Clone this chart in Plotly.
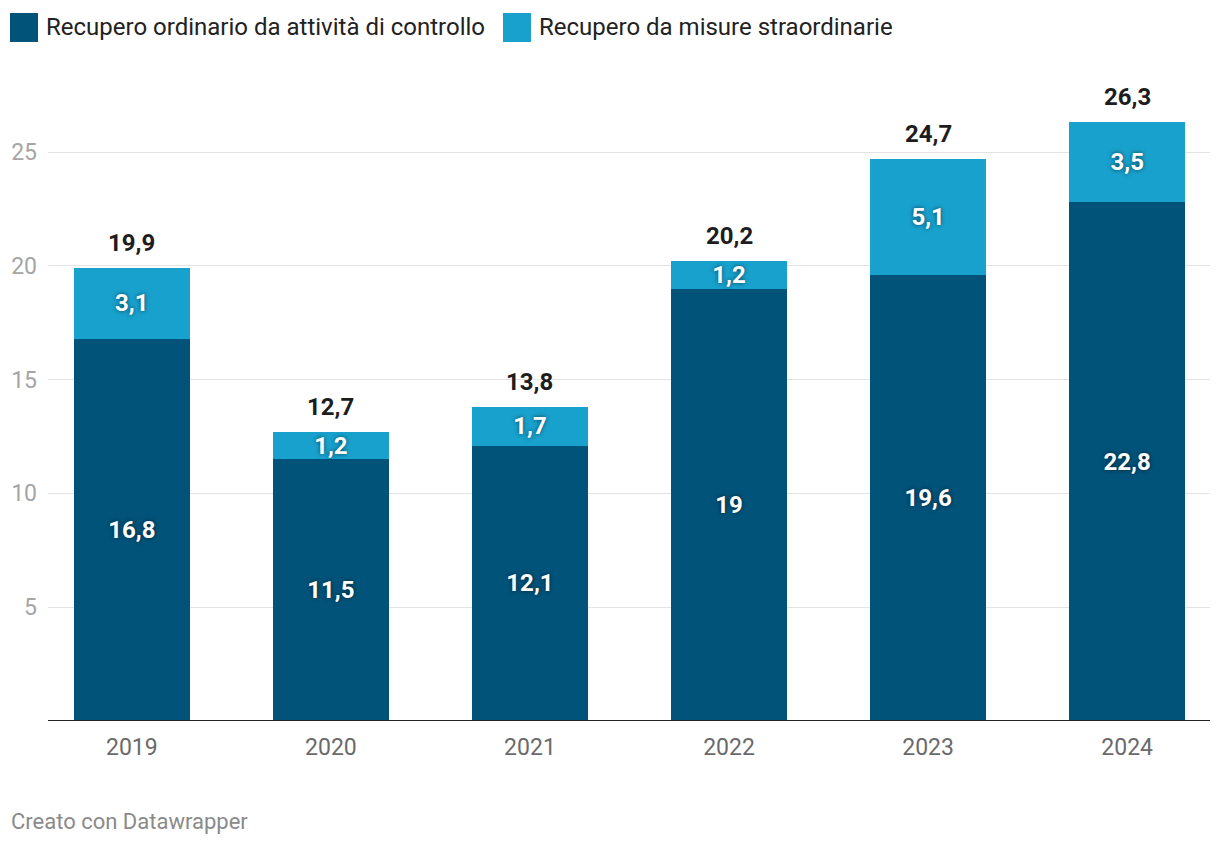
import plotly.graph_objects as go

years = ["2019", "2020", "2021", "2022", "2023", "2024"]
ordinario = [16.8, 11.5, 12.1, 19.0, 19.6, 22.8]
straordinario = [3.1, 1.2, 1.7, 1.2, 5.1, 3.5]
totali = [19.9, 12.7, 13.8, 20.2, 24.7, 26.3]
series_names = ["Recupero ordinario da attività di controllo", "Recupero da misure straordinarie"]
y_ticks = [5, 10, 15, 20, 25]

C_DARK = "#01537a"
C_LIGHT = "#18a1cd"
FONT = "Roboto"
OFF = 8  # page offset of the figure


def fmt(v):
    s = ("%.1f" % v).rstrip("0").rstrip(".")
    return s.replace(".", ",")


x = list(range(len(years)))
inner_font = dict(family=FONT, size=24, color="white", weight="bold",
                  shadow="0px 0px 4px rgba(0,0,0,0.6)")

fig = go.Figure()
fig.add_trace(go.Bar(
    x=x, y=ordinario, name=series_names[0], marker=dict(color=C_DARK, line=dict(width=0)),
    width=0.58, text=[fmt(v) for v in ordinario], textposition="inside",
    insidetextanchor="middle", textangle=0, textfont=inner_font, constraintext="none",
    hoverinfo="skip"))
fig.add_trace(go.Bar(
    x=x, y=straordinario, name=series_names[1], marker=dict(color=C_LIGHT, line=dict(width=0)),
    width=0.58, text=[fmt(v) for v in straordinario], textposition="inside",
    insidetextanchor="middle", textangle=0, textfont=inner_font, constraintext="none",
    hoverinfo="skip"))

for xi, t in zip(x, totali):
    fig.add_annotation(x=xi, y=t, text=fmt(t), showarrow=False, yanchor="bottom",
                       yshift=9, font=dict(family=FONT, size=24, color="#1d1d1d", weight="bold"))

# plot area in target px
L, R = 48, 1210
T, B = 90, 721
W = R - L
H = B - T


def px(p):
    return (p - L) / W


def py(p):
    return (B - p) / H


legend_items = [(10, 38, 44, series_names[0], C_DARK), (503, 531, 537, series_names[1], C_LIGHT)]
for x0, x1, tx, name, col in legend_items:
    fig.add_shape(type="rect", xref="paper", yref="paper", x0=px(x0), x1=px(x1),
                  y0=py(42), y1=py(13), fillcolor=col, line=dict(width=0))
    fig.add_annotation(xref="paper", yref="paper", x=px(tx), y=py(27), text=name,
                       showarrow=False, xanchor="left", yanchor="middle",
                       font=dict(family=FONT, size=24, color="#222222"))

fig.add_annotation(xref="paper", yref="paper", x=px(9), y=py(821), text="Creato con Datawrapper",
                   showarrow=False, xanchor="left", yanchor="middle",
                   font=dict(family=FONT, size=22, color="#8a8a8a"))

fig.add_shape(type="line", xref="paper", yref="y", x0=0, x1=1, y0=0, y1=0,
              line=dict(color="#222222", width=2))

fig.update_layout(
    barmode="stack",
    width=1220 - OFF, height=846 - OFF,
    margin=dict(l=L - OFF, r=1220 - R, t=T - OFF, b=846 - B, autoexpand=False),
    paper_bgcolor="white", plot_bgcolor="white",
    showlegend=False,
    font=dict(family=FONT),
    xaxis=dict(range=[-0.421, 5.416], tickvals=x, ticktext=years, showgrid=False,
               zeroline=False, showline=False, ticks="", ticklabelstandoff=10, automargin=False,
               tickfont=dict(family=FONT, size=23, color="#6a6a6a"), fixedrange=True),
    yaxis=dict(range=[0, H / 22.76], tickvals=y_ticks, ticktext=[str(v) for v in y_ticks],
               showgrid=True, gridcolor="#e3e3e3", gridwidth=1, zeroline=False,
               showline=False, ticks="", ticklabelstandoff=10, automargin=False,
               tickfont=dict(family=FONT, size=23, color="#a5a5a5"), fixedrange=True),
)

fig.write_html("out.html")
